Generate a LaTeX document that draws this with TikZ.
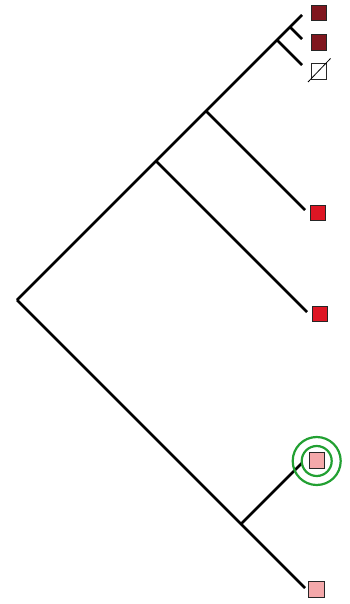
\documentclass[tikz,border=0pt]{standalone}
\definecolor{darkred}{RGB}{128,22,30}
\definecolor{brightred}{RGB}{222,22,36}
\definecolor{lightpink}{RGB}{244,168,170}
\definecolor{ringgreen}{RGB}{34,160,50}
\tikzset{
  branch/.style={line width=2.7pt, line cap=butt},
  leaf/.style={draw=black!85, line width=0.8pt, minimum size=15.5pt, inner sep=0pt, outer sep=0pt, rectangle},
  ring/.style={draw=ringgreen, line width=2.2pt, circle, inner sep=0pt}
}
\begin{document}
\begin{tikzpicture}[x=1pt,y=-1pt]
\useasboundingbox (0,0) rectangle (350,604);
% internal points and branch ends
\coordinate (root) at (17,300);
\coordinate (a) at (156,161);
\coordinate (b) at (206,111);
\coordinate (c) at (277,40);
\coordinate (d) at (290,27);
\coordinate (t1) at (302,15);
\coordinate (t2) at (302,39);
\coordinate (t3) at (302,65);
\coordinate (t4) at (305,210);
\coordinate (t5) at (307,312);
\coordinate (e) at (241,524);
\coordinate (t6) at (302,463);
\coordinate (t7) at (305,588);
% branches
\draw[branch] (root) -- (a) -- (b) -- (c) -- (d) -- (t1);
\draw[branch] (d) -- (t2);
\draw[branch] (c) -- (t3);
\draw[branch] (b) -- (t4);
\draw[branch] (a) -- (t5);
\draw[branch] (root) -- (e) -- (t7);
\draw[branch] (e) -- (t6);
% leaves
\node[leaf, fill=darkred] (s1) at (319,13) {};
\node[leaf, fill=darkred] (s2) at (319,42.5) {};
\node[leaf, fill=white] (s3) at (318.7,71.5) {};
\coordinate (sl1) at (308,82);
\coordinate (sl2) at (330.5,58.5);
\draw[line width=0.8pt] (sl1) -- (sl2);
\node[leaf, fill=brightred] (s4) at (318,213) {};
\node[leaf, fill=brightred] (s5) at (320,314) {};
\node[leaf, fill=lightpink] (s6) at (316.7,460.5) {};
\node[leaf, fill=lightpink] (s7) at (316.3,589.5) {};
% rings
\node[ring, minimum size=30pt] (r1) at (316.7,461) {};
\node[ring, minimum size=48pt] (r2) at (316.7,461) {};
\end{tikzpicture}
\end{document}
